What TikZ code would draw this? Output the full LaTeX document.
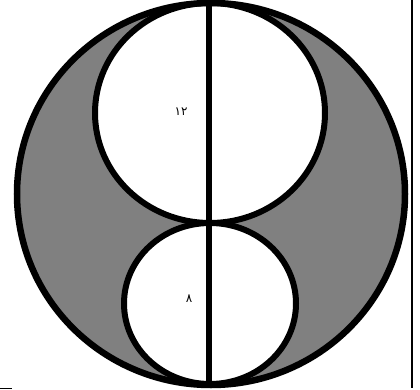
\documentclass[tikz,border=0pt]{standalone}
\usepackage{fontspec}
\usepackage{tikz}
\usepackage{xcolor}
\usetikzlibrary{calc,positioning}
\newfontfamily\arabicfont[Script=Arabic]{DejaVu Sans}
\TeXXeTstate=1

\begin{document}
\begin{tikzpicture}[x=1pt,y=1pt]
\useasboundingbox (0,0) rectangle (420,389);
\coordinate (O) at (211,195);
\coordinate (U) at (210,276);
\coordinate (L) at (210,85.5);
\coordinate (T) at (208.5,386);
\coordinate (B) at (208.5,4);
\fill[gray,even odd rule] (O) ellipse [x radius=194,y radius=191]
  (U) ellipse [x radius=115,y radius=110]
  (L) ellipse [x radius=86,y radius=80.5];
\draw[line width=6.5pt] (O) ellipse [x radius=194,y radius=191];
\draw[line width=6pt] (U) ellipse [x radius=115,y radius=110];
\draw[line width=6pt] (L) ellipse [x radius=86,y radius=80.5];
\draw[line width=6pt] (T)--(B);
\node[font=\large] (twelve) at (181,277) {\arabicfont\beginR\beginL ١٢\endL\endR};
\node[font=\large] (eight) at (189,90) {\arabicfont\beginR ٨\endR};
% frame edges
\draw[line width=1.5pt] (412,389)--(412,1);
\draw[line width=1pt] (0,1)--(12,1);
\end{tikzpicture}
\end{document}
